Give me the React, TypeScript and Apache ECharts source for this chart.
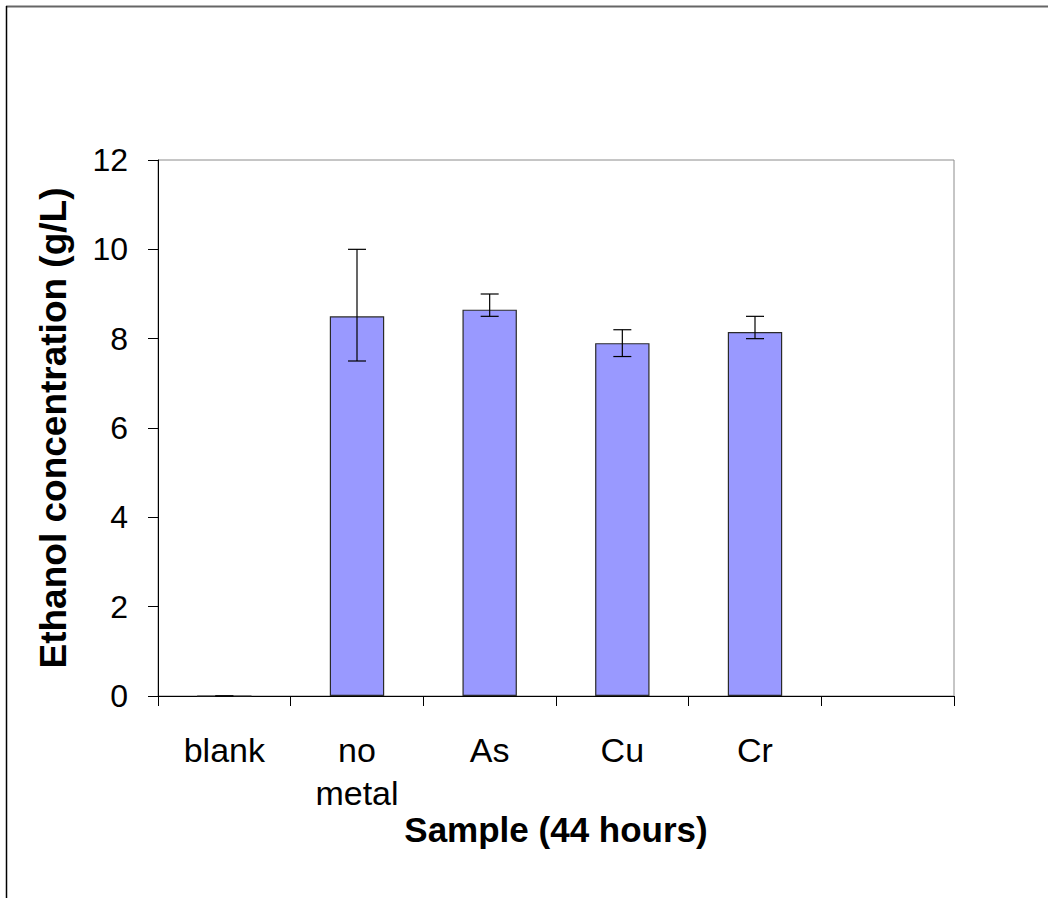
import React, { useEffect, useRef } from "react";
import * as echarts from "echarts";

const categories = ["blank", "no\nmetal", "As", "Cu", "Cr", ""];
const ethanol = [0, 8.5, 8.65, 7.9, 8.15, null];
const errLow = [0, 7.5, 8.5, 7.6, 8.0, null];
const errHigh = [0, 10.0, 9.0, 8.2, 8.5, null];
const yTicks = [0, 2, 4, 6, 8, 10, 12];

const FONT = "'Liberation Sans', Arial, sans-serif";

export default function App() {
  const ref = useRef<HTMLDivElement>(null);
  useEffect(() => {
    if (!ref.current) return;
    const chart = echarts.init(ref.current, null, { renderer: "svg" });
    const errData = categories
      .map((_, i) => (errLow[i] === null ? null : [i, errLow[i], errHigh[i]]))
      .filter((d) => d !== null);
    chart.setOption({
      animation: false,
      backgroundColor: "#ffffff",
      textStyle: { fontFamily: FONT },
      grid: {
        left: 158,
        top: 160,
        right: 94,
        bottom: 202,
        show: true,
        borderColor: "#8c8c8c",
        borderWidth: 1,
        backgroundColor: "transparent",
      },
      graphic: [
        { type: "line", shape: { x1: 6, y1: 6.5, x2: 1048, y2: 6.5 }, style: { stroke: "#666", lineWidth: 2 } },
        { type: "line", shape: { x1: 6.5, y1: 6, x2: 6.5, y2: 898 }, style: { stroke: "#000", lineWidth: 1.5 } },
      ],
      xAxis: {
        type: "category",
        data: categories,
        boundaryGap: true,
        name: "Sample (44 hours)",
        nameLocation: "middle",
        nameGap: 116,
        nameMoveOverlap: false,
        nameTextStyle: { fontFamily: FONT, fontSize: 35, fontWeight: "bold", color: "#000" },
        axisLine: { show: true, lineStyle: { color: "#000", width: 1 } },
        axisTick: { show: true, inside: false, length: 10, alignWithLabel: false, lineStyle: { color: "#000" } },
        axisLabel: { fontFamily: FONT, fontSize: 34, color: "#000", margin: 32, lineHeight: 43, interval: 0 },
        splitLine: { show: false },
      },
      yAxis: {
        type: "value",
        min: 0,
        max: 12,
        interval: 2,
        name: "Ethanol concentration (g/L)",
        nameLocation: "middle",
        nameRotate: 90,
        nameGap: 86,
        nameMoveOverlap: false,
        nameTextStyle: { fontFamily: FONT, fontSize: 37, fontWeight: "bold", color: "#000" },
        axisLine: { show: true, lineStyle: { color: "#000", width: 1 } },
        axisTick: { show: true, inside: false, length: 10, lineStyle: { color: "#000" } },
        axisLabel: {
          fontFamily: FONT,
          fontSize: 32,
          color: "#000",
          margin: 30,
          formatter: (v: number) => (yTicks.includes(v) ? String(v) : ""),
        },
        splitLine: { show: false },
      },
      series: [
        {
          type: "bar",
          data: ethanol,
          barWidth: "41%",
          itemStyle: { color: "#9999ff", borderColor: "#2a2a2a", borderWidth: 1.2 },
        },
        {
          type: "custom",
          data: errData,
          z: 10,
          renderItem: (params: any, api: any) => {
            const x = api.value(0);
            const lo = api.coord([x, api.value(1)]);
            const hi = api.coord([x, api.value(2)]);
            const half = 9;
            const style = { stroke: "#000", lineWidth: 1.2 };
            return {
              type: "group",
              children: [
                { type: "line", shape: { x1: lo[0], y1: lo[1], x2: hi[0], y2: hi[1] }, style },
                { type: "line", shape: { x1: hi[0] - half, y1: hi[1], x2: hi[0] + half, y2: hi[1] }, style },
                { type: "line", shape: { x1: lo[0] - half, y1: lo[1], x2: lo[0] + half, y2: lo[1] }, style },
              ],
            };
          },
        },
      ],
    });
    return () => chart.dispose();
  }, []);
  return (
    <div
      ref={ref}
      style={{ position: "fixed", left: 0, top: 0, width: 1048, height: 898, background: "#fff" }}
    />
  );
}
